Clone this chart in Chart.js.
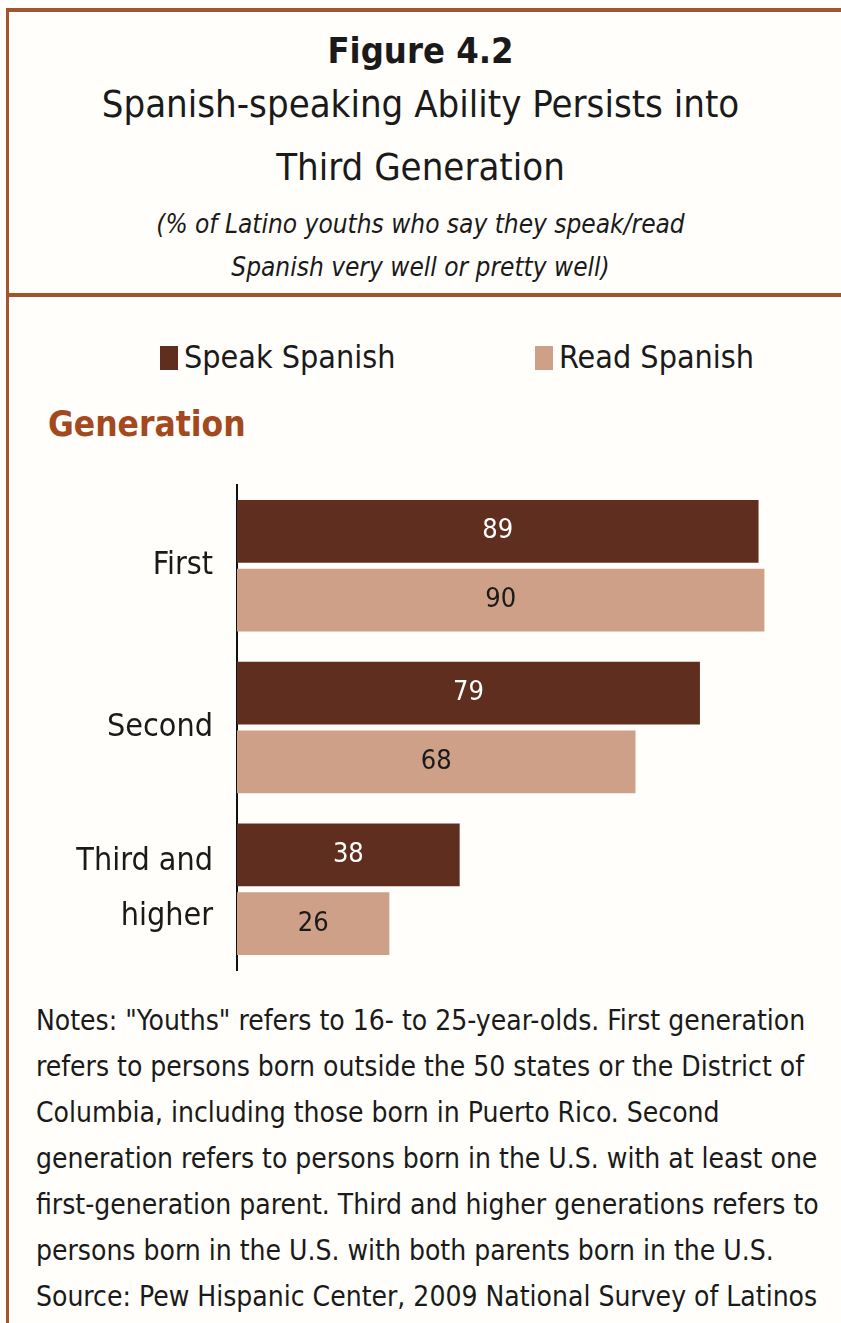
<!DOCTYPE html>
<html>
<head>
<meta charset="utf-8">
<script src="https://cdn.jsdelivr.net/npm/chart.js@4"></script>
<style>
  html, body { margin: 0; padding: 0; background: #fffefb; }
  body { width: 841px; height: 1323px; position: relative; overflow: hidden;
         font-family: "Liberation Sans Narrow", "DejaVu Sans Condensed", sans-serif; color: #1a1a1a; }
  .frame-top { position: absolute; left: 6px; top: 8px; width: 835px; height: 4px; background: #a0552e; }
  .frame-mid { position: absolute; left: 6px; top: 293px; width: 835px; height: 4px; background: #a0552e; }
  .frame-left { position: absolute; left: 6px; top: 8px; width: 3px; height: 1315px; background: #a0552e; }
  .t { position: absolute; left: 0; width: 841px; text-align: center; white-space: nowrap; }
  #fig { top: 30px; font-size: 36px; font-weight: bold; }
  #title1 { top: 82px; font-size: 38px; }
  #title2 { top: 145px; font-size: 38px; }
  #sub1 { top: 209px; font-size: 26px; font-style: italic; }
  #sub2 { top: 252px; font-size: 26px; font-style: italic; }
  #legend { position: absolute; top: 338px; left: 0; width: 841px; height: 40px; }
  .li { position: absolute; top: 0; font-size: 32px; white-space: nowrap; }
  .sw { display: inline-block; width: 18px; height: 24px; margin-right: 6px; vertical-align: -2px; }
  #gen { position: absolute; left: 48px; top: 404px; font-size: 35px; font-weight: bold; color: #a4481e; }
  #chartbox { position: absolute; left: 0; top: 470px; width: 841px; height: 510px; }
  #notes { position: absolute; left: 36px; top: 998px; width: 790px; font-size: 28px; line-height: 46px; }
</style>
</head>
<body>
<div class="frame-top"></div>
<div class="frame-mid"></div>
<div class="frame-left"></div>
<div class="t" id="fig">Figure 4.2</div>
<div class="t" id="title1">Spanish-speaking Ability Persists into</div>
<div class="t" id="title2">Third Generation</div>
<div class="t" id="sub1">(% of Latino youths who say they speak/read</div>
<div class="t" id="sub2">Spanish very well or pretty well)</div>
<div id="legend"></div>
<div id="gen">Generation</div>
<div id="chartbox"><canvas id="c" width="841" height="510"></canvas></div>
<div id="notes">Notes: "Youths" refers to 16- to 25-year-olds. First generation refers to persons born outside the 50 states or the District of Columbia, including those born in Puerto Rico. Second generation refers to persons born in the U.S. with at least one first-generation parent. Third and higher generations refers to persons born in the U.S. with both parents born in the U.S.<br>Source: Pew Hispanic Center, 2009 National Survey of Latinos</div>
<script>
const categories = [["First"], ["Second"], ["Third and", "higher"]];
const seriesNames = ["Speak Spanish", "Read Spanish"];
const speakSpanish = [89, 79, 38];
const readSpanish = [90, 68, 26];
const colors = ["#5f2e1f", "#cda087"];
const labelColors = ["#ffffff", "#1a1a1a"];

// HTML legend built from series
const legend = document.getElementById('legend');
const legendX = [160, 535];
seriesNames.forEach((n, i) => {
  const d = document.createElement('div');
  d.className = 'li';
  d.style.left = legendX[i] + 'px';
  d.innerHTML = '<span class="sw" style="background:' + colors[i] + '"></span>' + n;
  legend.appendChild(d);
});

const valueLabels = {
  id: 'valueLabels',
  afterDatasetsDraw(chart) {
    const ctx = chart.ctx;
    ctx.save();
    ctx.font = '27px "Liberation Sans Narrow", "DejaVu Sans Condensed", sans-serif';
    ctx.textAlign = 'center';
    ctx.textBaseline = 'middle';
    chart.data.datasets.forEach((ds, di) => {
      const meta = chart.getDatasetMeta(di);
      meta.data.forEach((bar, i) => {
        const x = (bar.x + bar.base) / 2;
        ctx.fillStyle = labelColors[di];
        ctx.fillText(String(ds.data[i]), x, bar.y);
      });
    });
    ctx.restore();
  }
};

new Chart(document.getElementById('c'), {
  type: 'bar',
  data: {
    labels: categories,
    datasets: [
      { label: seriesNames[0], data: speakSpanish, backgroundColor: colors[0] },
      { label: seriesNames[1], data: readSpanish, backgroundColor: colors[1] }
    ]
  },
  options: {
    indexAxis: 'y',
    responsive: false,
    animation: false,
    devicePixelRatio: 1,
    categoryPercentage: 0.85,
    barPercentage: 0.913,
    layout: { padding: { top: 15, right: 18, bottom: 10, left: 0 } },
    plugins: { legend: { display: false }, tooltip: { enabled: false } },
    scales: {
      x: { display: false, min: 0, max: 100 },
      y: {
        afterFit(scale) { scale.width = 237; scale.paddingTop = 0; scale.paddingBottom = 0; },
        grid: { display: false, drawTicks: false },
        border: { display: true, color: '#111', width: 2 },
        ticks: {
          padding: 24,
          color: '#1a1a1a',
          font: { family: '"Liberation Sans Narrow", "DejaVu Sans Condensed", sans-serif', size: 32, lineHeight: 1.7 }
        }
      }
    }
  },
  plugins: [valueLabels]
});
</script>
</body>
</html>
